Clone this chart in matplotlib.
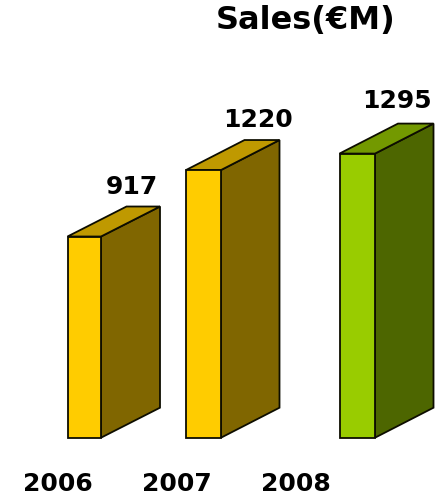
import matplotlib
matplotlib.use('Agg')
import matplotlib.pyplot as plt

# data
years = ['2006', '2007', '2008']
sales = [917, 1220, 1295]
title = 'Sales(€M)'

# colours for each bar: front, side, top
front_colors = ['#FFCC00', '#FFCC00', '#99CC00']
side_colors = ['#806600', '#806600', '#4D6600']
top_colors = ['#BF9900', '#BF9900', '#739900']

# layout, x is in pixels of the picture
bar_left = [67.5, 186, 339.5]
bar_width = [33.5, 35, 35.5]
depth_x = [59, 58.5, 58.5]
value_x = [132, 258, 396.5]
year_x = [57.5, 177, 296]
px_per_unit = 0.2194
base_px = 437.7
depth_y = 30 / px_per_unit
label_gap = [20, 20.5, 23]

plt.rcParams['font.family'] = ['DejaVu Sans']

fig = plt.figure(figsize=(4.4, 4.97), dpi=100)
ax = fig.add_axes([0, 0, 1, 1])
ax.set_xlim(0, 440)
ax.set_ylim(-(497 - base_px) / px_per_unit, base_px / px_per_unit)
ax.axis('off')

edge = '#0d0d00'
lw = 1.3
for i, v in enumerate(sales):
    l = bar_left[i]
    r = l + bar_width[i]
    dx = depth_x[i]
    # side face
    ax.fill([r, r + dx, r + dx, r], [0, depth_y, v + depth_y, v],
            facecolor=side_colors[i], edgecolor=edge, linewidth=lw, zorder=2)
    # top face
    ax.fill([l, l + dx, r + dx, r], [v, v + depth_y, v + depth_y, v],
            facecolor=top_colors[i], edgecolor=edge, linewidth=lw, zorder=2)
    # front face
    ax.bar(l, v, width=bar_width[i], align='edge', color=front_colors[i],
           edgecolor=edge, linewidth=lw, zorder=3)
    ax.text(value_x[i], v + depth_y + label_gap[i] / px_per_unit, str(v),
            ha='center', va='center', fontsize=18, fontweight='bold', color='black')

for x, y in zip(year_x, years):
    ax.text(x, -(484 - base_px) / px_per_unit, y, ha='center', va='center',
            fontsize=18, fontweight='bold', color='black')

ax.text(306, (base_px - 20.5) / px_per_unit, title, ha='center', va='center',
        fontsize=23, fontweight='bold', color='black')

fig.savefig('out.png', dpi=100)
